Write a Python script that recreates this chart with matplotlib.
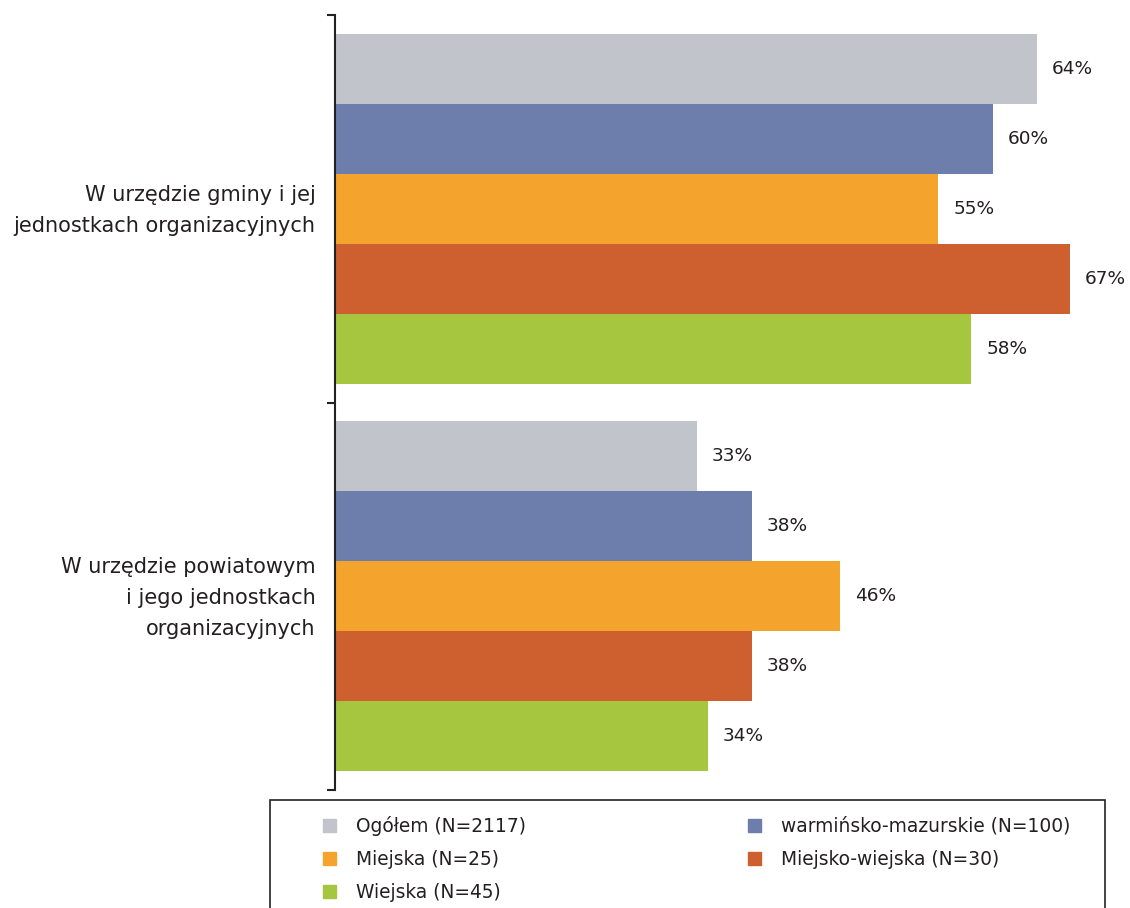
import numpy as np
import matplotlib.pyplot as plt
import matplotlib.transforms as mtransforms
from matplotlib.patches import Patch, Rectangle

# data
categories = ['W urzędzie gminy i jej\njednostkach organizacyjnych',
              'W urzędzie powiatowym\ni jego jednostkach\norganizacyjnych']
series = ['Ogółem (N=2117)', 'warmińsko-mazurskie (N=100)', 'Miejska (N=25)',
          'Miejsko-wiejska (N=30)', 'Wiejska (N=45)']
ogolem = [64, 33]
warminsko = [60, 38]
miejska = [55, 46]
miejsko_wiejska = [67, 38]
wiejska = [58, 34]
values = [ogolem, warminsko, miejska, miejsko_wiejska, wiejska]
colors = ['#C1C4CB', '#6E7EAC', '#F4A42C', '#CE5F2E', '#A6C63F']

txt = '#231F20'
plt.rcParams['font.family'] = ['DejaVu Sans']

W, H = 1130, 908
fig = plt.figure(figsize=(W/100, H/100), dpi=100)
ax = fig.add_axes([335/W, 1 - 790/H, (W - 335)/W, 775/H])

h = 70/387.5
centers = np.array([0.5, 1.5])
handles = []
for i, (name, vals, c) in enumerate(zip(series, values, colors)):
    y = centers + (i - 2) * h
    bars = ax.barh(y, vals, height=h, color=c, label=name)
    handles.append(Patch(color=c, label=name))
    for b, v in zip(bars, vals):
        ax.annotate(f'{v}%', (b.get_width(), b.get_y() + b.get_height()/2),
                    xytext=(15, 0), textcoords='offset pixels',
                    va='center', ha='left', fontsize=13.3, color=txt)

ax.set_xlim(0, 795/10.97)
ax.set_ylim(2, 0)
for s in ['top', 'right', 'bottom']:
    ax.spines[s].set_visible(False)
ax.spines['left'].set_linewidth(1.5)
ax.spines['left'].set_color('#222222')
ax.set_xticks([])
ax.set_yticks([0, 1, 2])
ax.set_yticklabels([])
ax.tick_params(axis='y', which='major', length=5.8, width=1.5, color='#222222')
ax.set_yticks(centers, minor=True)
ax.set_yticklabels(categories, minor=True, fontsize=15, color=txt,
                   linespacing=1.7)
ax.tick_params(axis='y', which='minor', length=0, pad=14)
shift = mtransforms.ScaledTranslation(0, 6/100, fig.dpi_scale_trans)
for lab in ax.get_yticklabels(minor=True):
    lab.set_transform(lab.get_transform() + shift)

# legend frame
fig.patches.append(Rectangle((270/W, 1 - 920/H), 835/W, 120/H,
                             transform=fig.transFigure, fill=False,
                             edgecolor='#222222', linewidth=1.2))
order = [0, 2, 4, 1, 3]
leg = fig.legend([handles[k] for k in order], [series[k] for k in order],
                 loc='upper left', bbox_to_anchor=(323/W, 1 - 816/H),
                 ncol=2, frameon=False, fontsize=13.4, borderpad=0,
                 handlelength=0.7, handleheight=0.7, handletextpad=1.1,
                 columnspacing=11.9, labelspacing=0.75, borderaxespad=0)
for t in leg.get_texts():
    t.set_color(txt)

fig.savefig('out.png', dpi=100)
